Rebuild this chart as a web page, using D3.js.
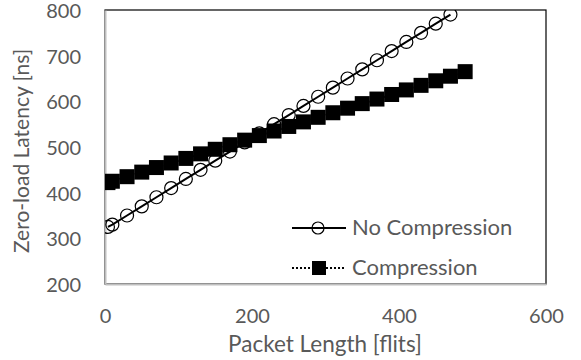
<!DOCTYPE html>
<html>
<head>
<meta charset="utf-8">
<script src="https://cdn.jsdelivr.net/npm/d3@7"></script>
<style>
  html, body { margin: 0; padding: 0; background: #fff; }
  svg { display: block; }
  text { font-family: Lato, "Open Sans", sans-serif; fill: #595959; }
</style>
</head>
<body>
<svg id="chart" width="581" height="360"></svg>
<script>
// ---- data ----
const noCompX = [4, 10, 30, 50, 70, 90, 110, 130, 150, 170, 190, 210, 230, 250, 270, 290, 310, 330, 350, 370, 390, 410, 430, 450, 470];
const noCompY = [325, 330, 350, 370, 390, 410, 430, 450, 470, 490, 510, 530, 550, 570, 590, 610, 630, 650, 670, 690, 710, 730, 750, 770, 790];
const compX = [4, 10, 30, 50, 70, 90, 110, 130, 150, 170, 190, 210, 230, 250, 270, 290, 310, 330, 350, 370, 390, 410, 430, 450, 470, 490];
const compY = [422, 425, 435, 445, 455, 465, 475, 485, 495, 505, 515, 525, 535, 545, 555, 565, 575, 585, 595, 605, 615, 625, 635, 645, 655, 665];
const xTicks = [0, 200, 400, 600];
const yTicks = [200, 300, 400, 500, 600, 700, 800];
const seriesNames = ["No Compression", "Compression"];
const xTitle = "Packet Length [flits]";
const yTitle = "Zero-load Latency [ns]";

(function () {
// ---- layout ----
const svg = d3.select("#chart");
const pL = 105, pR = 546, pT = 10, pB = 284;
const x = d3.scaleLinear().domain([0, 600]).range([pL, pR]);
const y = d3.scaleLinear().domain([200, 800]).range([pB, pT]);
const FONT = "Lato";

// plot border (top/right black)
svg.append("rect").attr("x", pL).attr("y", pT).attr("width", pR - pL).attr("height", pB - pT)
  .attr("fill", "none").attr("stroke", "#000").attr("stroke-width", 1.2);

svg.append("defs").append("clipPath").attr("id", "clip")
  .append("rect").attr("x", pL).attr("y", pT).attr("width", pR - pL).attr("height", pB - pT);

// axes (gray)
const xAxis = svg.append("g").attr("transform", `translate(0,${pB})`)
  .call(d3.axisBottom(x).tickValues(xTicks).tickSize(0).tickPadding(25));
xAxis.select(".domain").attr("stroke", "#bfbfbf").attr("stroke-width", 2);
xAxis.selectAll("text").style("font-size", "20px").attr("fill", "#595959").style("font-family", FONT);

const yAxis = svg.append("g").attr("transform", `translate(${pL},0)`)
  .call(d3.axisLeft(y).tickValues(yTicks).tickSize(0).tickPadding(24));
yAxis.select(".domain").attr("stroke", "#bfbfbf").attr("stroke-width", 2);
yAxis.selectAll("text").style("font-size", "20px").attr("fill", "#595959").style("font-family", FONT)
  .attr("dy", "0.38em");

// titles
svg.append("text").attr("x", 325).attr("y", 352).attr("text-anchor", "middle")
  .style("font-size", "22.5px").text(xTitle);
svg.append("text").attr("transform", "translate(29,151) rotate(-90)").attr("text-anchor", "middle")
  .style("font-size", "21px").text(yTitle);

const plot = svg.append("g").attr("clip-path", "url(#clip)");

// compression series
const compData = compX.map((d, i) => ({ x: d, y: compY[i] }));
plot.append("path").datum(compData)
  .attr("d", d3.line().x(d => x(d.x)).y(d => y(d.y)))
  .attr("fill", "none").attr("stroke", "#000").attr("stroke-width", 2).attr("stroke-dasharray", "2,2");
plot.selectAll("rect.sq").data(compData).enter().append("rect").attr("class", "sq")
  .attr("x", d => x(d.x) - 7.5).attr("y", d => y(d.y) - 7.5).attr("width", 15).attr("height", 15)
  .attr("fill", "#000");

// no compression series
const ncData = noCompX.map((d, i) => ({ x: d, y: noCompY[i] }));
plot.append("path").datum(ncData)
  .attr("d", d3.line().x(d => x(d.x)).y(d => y(d.y)))
  .attr("fill", "none").attr("stroke", "#000").attr("stroke-width", 2);
plot.selectAll("circle.c").data(ncData).enter().append("circle").attr("class", "c")
  .attr("cx", d => x(d.x)).attr("cy", d => y(d.y)).attr("r", 6.5)
  .attr("fill", "none").attr("stroke", "#000").attr("stroke-width", 1.2);

// legend
const lg = svg.append("g");
lg.append("line").attr("x1", 292).attr("x2", 346).attr("y1", 228).attr("y2", 228).attr("stroke", "#000").attr("stroke-width", 2);
lg.append("circle").attr("cx", 318).attr("cy", 228).attr("r", 6).attr("fill", "none").attr("stroke", "#000").attr("stroke-width", 1.2);
lg.append("line").attr("x1", 292).attr("x2", 313).attr("y1", 268).attr("y2", 268).attr("stroke", "#000").attr("stroke-width", 2).attr("stroke-dasharray", "2,2");
lg.append("line").attr("x1", 326).attr("x2", 346).attr("y1", 268).attr("y2", 268).attr("stroke", "#000").attr("stroke-width", 2).attr("stroke-dasharray", "2,2");
lg.append("rect").attr("x", 312).attr("y", 261).attr("width", 14).attr("height", 14).attr("fill", "#000");
lg.append("text").attr("x", 352).attr("y", 235).style("font-size", "22px").text(seriesNames[0]);
lg.append("text").attr("x", 352).attr("y", 275).style("font-size", "22px").text(seriesNames[1]);
})();
</script>
</body>
</html>
